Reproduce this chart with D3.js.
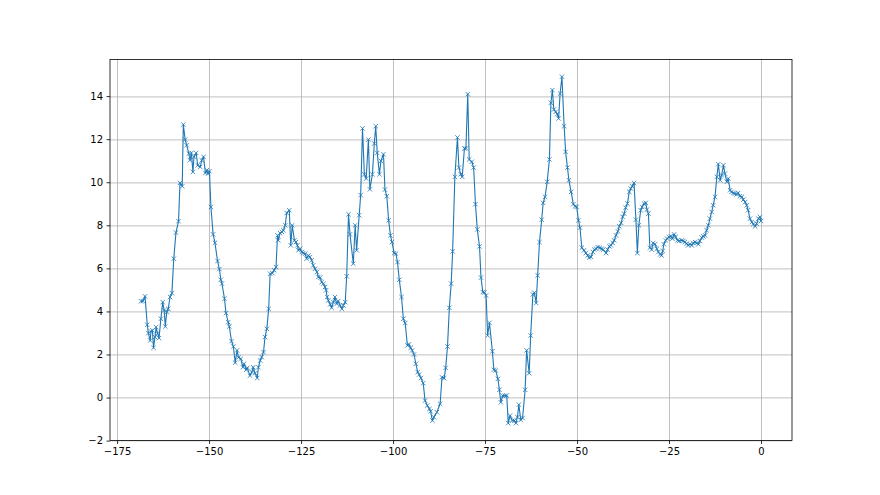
<!DOCTYPE html>
<html>
<head>
<meta charset="utf-8">
<script src="https://cdn.jsdelivr.net/npm/d3@7"></script>
<style>
  html, body { margin: 0; padding: 0; background: #ffffff; }
  svg { display: block; }
</style>
</head>
<body>
<svg id="chart" width="880" height="495"></svg>
<script>
// x positions (hours before now)
const xs = [
-168.5,-168.0,-167.4,-166.8,-166.5,-166.0,-165.8,-165.4,-165.1,-164.7,-164.4,-164.0,-163.6,-163.1,-162.6,-162.2,-161.9,-161.5,-161.1,-160.6,
-160.1,-159.6,-159.0,-158.3,-157.9,-157.3,-157.0,-156.5,-156.1,-155.5,-155.2,-154.8,-154.4,-154.1,-153.5,-153.1,-152.4,-152.0,-151.5,-151.0,
-150.6,-150.3,-149.9,-149.5,-148.9,-148.4,-147.7,-147.2,-146.8,-146.5,-145.8,-145.4,-144.8,-144.5,-143.9,-143.4,-142.9,-142.4,-142.0,-141.4,
-140.8,-140.5,-139.9,-139.6,-138.9,-138.4,-138.0,-137.5,-136.9,-136.6,-136.1,-135.7,-135.2,-134.8,-134.3,-133.8,-133.4,-132.8,-132.3,-131.8,
-131.4,-131.2,-130.7,-130.2,-129.8,-129.3,-128.9,-128.2,-127.8,-127.4,-126.8,-126.4,-126.0,-125.7,-125.3,-124.8,-124.4,-123.9,-123.5,-123.0,
-122.6,-122.1,-121.7,-121.2,-120.7,-120.3,-119.8,-119.4,-118.9,-118.5,-118.2,-117.9,-117.6,-117.1,-116.7,-116.2,-115.8,-115.3,-114.9,-114.4,
-113.9,-113.5,-113.0,-112.6,-112.1,-111.7,-110.8,-110.3,-109.9,-109.2,-108.8,-108.3,-107.8,-107.3,-106.7,-106.3,-105.6,-105.1,-104.7,-104.3,
-103.7,-103.3,-102.6,-102.2,-101.7,-101.2,-100.7,-100.3,-99.7,-99.2,-98.8,-98.3,-97.7,-97.2,-96.7,-96.1,-95.7,-95.2,-94.8,-94.3,
-93.8,-93.3,-92.9,-92.4,-91.8,-91.3,-90.7,-90.1,-89.8,-89.3,-88.9,-88.1,-87.2,-86.7,-86.1,-85.7,-85.2,-84.7,-84.2,-83.8,
-83.2,-82.5,-82.1,-81.6,-81.2,-80.6,-80.2,-79.7,-79.3,-78.6,-78.1,-77.6,-77.1,-76.5,-76.1,-75.6,-75.2,-74.7,-74.3,-73.8,
-73.0,-72.6,-72.1,-71.5,-71.1,-70.7,-70.2,-69.6,-69.1,-68.7,-68.2,-67.6,-67.0,-66.6,-66.2,-65.8,-65.3,-64.8,-64.1,-63.7,
-63.0,-62.6,-62.0,-61.6,-61.1,-60.7,-60.2,-59.6,-59.2,-58.7,-58.1,-57.5,-57.1,-56.7,-56.3,-55.8,-55.4,-55.0,-54.6,-54.1,
-53.5,-53.1,-52.6,-52.2,-51.6,-51.0,-50.5,-50.1,-49.6,-49.2,-48.7,-48.1,-47.6,-47.1,-46.7,-46.2,-45.7,-45.3,-44.8,-44.4,
-43.8,-43.3,-42.9,-42.1,-41.7,-41.2,-40.8,-40.3,-39.9,-39.4,-38.9,-38.5,-38.0,-37.6,-37.2,-36.8,-36.3,-35.8,-35.4,-35.0,
-34.5,-34.0,-33.6,-33.2,-32.7,-32.3,-31.8,-31.3,-31.0,-30.6,-30.2,-29.7,-29.3,-28.8,-28.3,-27.9,-27.4,-27.0,-26.7,-26.4,
-25.9,-25.5,-25.0,-24.5,-24.1,-23.6,-23.2,-22.7,-22.3,-21.5,-21.1,-20.7,-20.2,-19.8,-19.3,-18.8,-18.4,-17.9,-17.5,-17.0,
-16.6,-16.1,-15.7,-15.2,-14.8,-14.3,-13.9,-13.4,-13.0,-12.5,-12.0,-11.6,-11.1,-10.7,-10.2,-9.8,-9.3,-8.9,-8.4,-8.0,
-7.5,-7.1,-6.6,-6.2,-5.7,-5.2,-4.8,-4.3,-3.9,-3.5,-3.0,-2.5,-2.1,-1.6,-1.2,-0.7,-0.3,0.0
];
const ys = [
4.47,4.48,4.70,3.38,2.99,2.65,3.07,3.12,2.31,2.81,3.27,2.99,2.76,3.66,4.43,4.05,3.30,3.97,4.12,4.67,
4.85,6.45,7.66,8.19,9.97,9.81,12.68,11.98,11.72,11.33,11.02,11.36,10.48,11.18,11.36,10.79,10.71,11.02,11.18,10.43,
10.56,10.40,10.51,8.85,7.58,7.19,6.34,5.97,5.47,5.29,4.59,3.92,3.50,3.30,2.62,2.37,1.62,2.19,1.87,1.80,
1.41,1.57,1.29,1.38,1.02,1.18,1.41,1.13,0.91,1.41,1.72,1.88,2.11,2.81,3.19,4.12,5.75,5.78,5.91,6.06,
7.53,7.30,7.64,7.69,7.77,8.00,8.57,8.70,7.07,8.00,7.30,7.22,7.07,6.84,6.91,6.76,6.71,6.68,6.45,6.60,
6.53,6.37,6.14,5.98,5.83,5.60,5.57,5.36,5.29,5.13,4.98,4.67,4.51,4.33,4.17,4.43,4.67,4.36,4.48,4.28,
4.12,4.28,4.43,5.63,8.51,7.58,6.22,8.00,6.84,8.47,9.40,12.50,10.37,10.17,11.98,9.67,10.37,11.80,12.60,11.36,
10.37,10.99,11.30,9.66,9.35,8.23,7.53,7.22,6.71,6.68,6.29,5.47,4.67,3.66,3.46,2.42,2.47,2.31,2.19,2.00,
1.57,1.18,1.07,0.90,0.67,-0.14,-0.37,-0.53,-0.64,-1.07,-0.91,-0.68,-0.29,0.94,0.90,1.38,2.37,4.17,5.29,6.79,
10.25,12.08,10.68,10.37,10.25,11.57,11.57,14.09,11.06,10.95,10.68,8.98,7.81,7.02,5.57,4.90,4.88,4.74,2.88,3.47,
2.15,1.29,1.26,0.87,0.36,-0.22,0.09,0.09,0.09,-1.19,-0.84,-1.07,-1.07,-1.19,-0.91,-0.33,-1.04,-0.95,0.36,2.19,
1.13,2.88,4.79,4.87,4.39,5.67,7.22,8.26,9.04,9.32,10.02,11.06,13.69,14.28,13.38,13.27,13.16,12.96,14.12,14.90,
12.60,11.41,10.68,10.09,9.55,8.98,8.88,8.85,8.23,7.89,6.96,6.84,6.71,6.60,6.50,6.53,6.76,6.87,6.91,6.99,
6.96,6.91,6.87,6.71,6.87,7.02,7.07,7.18,7.30,7.53,7.72,7.95,8.11,8.39,8.54,8.82,9.01,9.55,9.71,9.81,
9.97,8.26,6.71,8.00,8.70,8.85,9.01,9.04,8.73,8.54,6.96,6.87,7.18,7.12,6.91,6.76,6.65,6.60,6.81,7.12,
7.30,7.38,7.46,7.49,7.38,7.58,7.46,7.30,7.27,7.30,7.27,7.22,7.15,7.07,7.12,7.07,7.18,7.22,7.18,7.12,
7.27,7.43,7.49,7.53,7.77,8.00,8.31,8.62,8.93,9.32,10.25,10.84,10.09,10.33,10.79,10.40,10.02,10.17,9.63,9.55,
9.50,9.47,9.44,9.50,9.35,9.32,9.19,9.08,8.93,8.70,8.31,8.15,8.05,7.95,8.08,8.31,8.39,8.20
];
const xTicks = [-175, -150, -125, -100, -75, -50, -25, 0];
const yTicks = [-2, 0, 2, 4, 6, 8, 10, 12, 14];

const W = 880, H = 495;
const margin = { left: 110, right: 88, top: 59.4, bottom: 54.5 };
const iw = W - margin.left - margin.right;
const ih = H - margin.top - margin.bottom;

const data = xs.map((x, i) => ({ x, y: ys[i] }));

function padded(ext) {
  const r = ext[1] - ext[0];
  return [ext[0] - 0.05 * r, ext[1] + 0.05 * r];
}
const x = d3.scaleLinear().domain(padded(d3.extent(xs))).range([0, iw]);
const y = d3.scaleLinear().domain(padded(d3.extent(ys))).range([ih, 0]);

const svg = d3.select("#chart");
svg.append("rect").attr("width", W).attr("height", H).attr("fill", "#ffffff");
const g = svg.append("g").attr("transform", `translate(${margin.left},${margin.top})`);

const fmt = v => (v < 0 ? "\u2212" + Math.abs(v) : String(v));

// grid
g.append("g").selectAll("line").data(xTicks).join("line")
  .attr("x1", d => Math.round(x(d)) + 0.5).attr("x2", d => Math.round(x(d)) + 0.5)
  .attr("y1", 0).attr("y2", ih)
  .attr("stroke", "#b0b0b0").attr("stroke-width", 0.8);
g.append("g").selectAll("line").data(yTicks).join("line")
  .attr("y1", d => Math.round(y(d)) + 0.5).attr("y2", d => Math.round(y(d)) + 0.5)
  .attr("x1", 0).attr("x2", iw)
  .attr("stroke", "#b0b0b0").attr("stroke-width", 0.8);

// line
g.append("path").datum(data)
  .attr("fill", "none").attr("stroke", "#1f77b4").attr("stroke-width", 1.1)
  .attr("stroke-linejoin", "round")
  .attr("d", d3.line().x(d => x(d.x)).y(d => y(d.y)));

// x markers
const ms = 2.2;
g.append("g").selectAll("path").data(data).join("path")
  .attr("d", d => {
    const cx = x(d.x), cy = y(d.y);
    return `M${cx - ms},${cy - ms}L${cx + ms},${cy + ms}M${cx - ms},${cy + ms}L${cx + ms},${cy - ms}`;
  })
  .attr("stroke", "#1f77b4").attr("stroke-width", 0.8).attr("fill", "none");

// axes
const xAxis = d3.axisBottom(x).tickValues(xTicks).tickFormat(fmt).tickSize(3.5).tickPadding(3.5);
const yAxis = d3.axisLeft(y).tickValues(yTicks).tickFormat(fmt).tickSize(3.5).tickPadding(3.5);
const gx = g.append("g").attr("transform", `translate(0,${ih})`).call(xAxis);
const gy = g.append("g").call(yAxis);
[gx, gy].forEach(a => {
  a.select(".domain").remove();
  a.selectAll("line").attr("stroke", "#000").attr("stroke-width", 0.8);
  a.selectAll("text").attr("fill", "#000").style("font-family", "'DejaVu Sans', sans-serif").style("font-size", "10px");
});

// spines
g.append("rect").attr("x", 0).attr("y", 0).attr("width", iw).attr("height", ih)
  .attr("fill", "none").attr("stroke", "#000").attr("stroke-width", 0.8);
</script>
</body>
</html>
